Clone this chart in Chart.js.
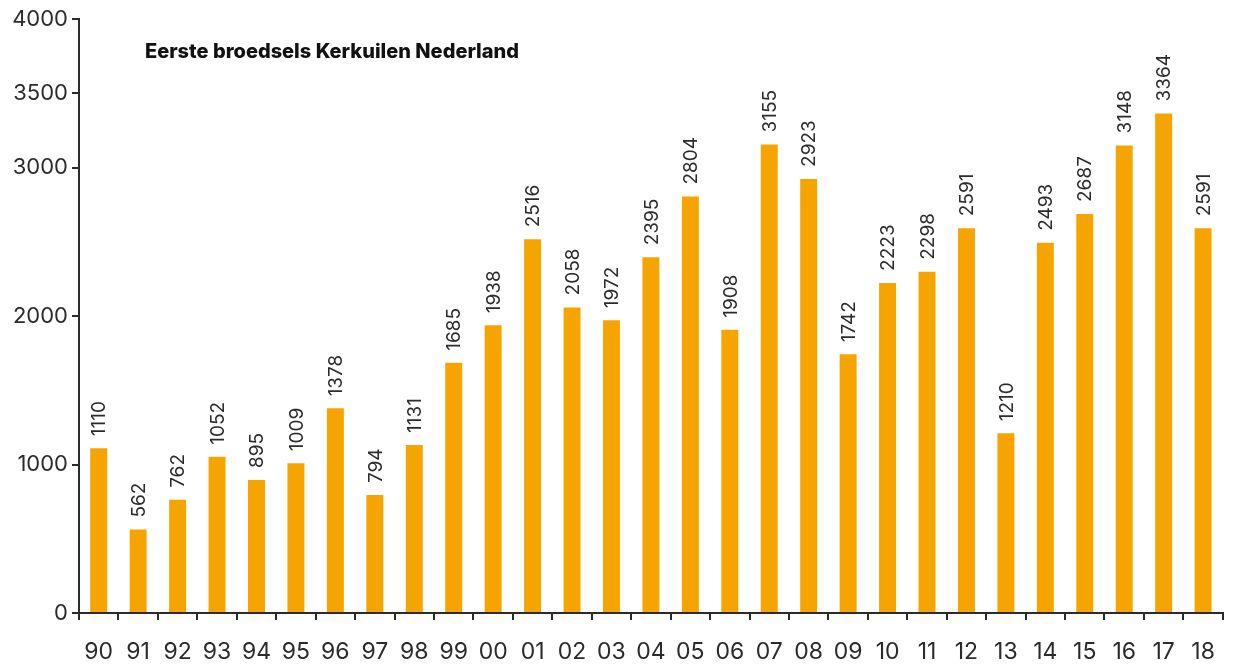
<!DOCTYPE html>
<html>
<head>
<meta charset="utf-8">
<script src="https://cdn.jsdelivr.net/npm/chart.js@4"></script>
<style>
  html, body { margin: 0; padding: 0; background: #fff; }
  #wrap { width: 1233px; height: 668px; }
</style>
</head>
<body>
<div id="wrap"><canvas id="owls"></canvas></div>
<script>
const years = ['90','91','92','93','94','95','96','97','98','99','00','01','02','03','04',
               '05','06','07','08','09','10','11','12','13','14','15','16','17','18'];
const broods = [1110, 562, 762, 1052, 895, 1009, 1378, 794, 1131, 1685, 1938, 2516, 2058, 1972, 2395,
                2804, 1908, 3155, 2923, 1742, 2223, 2298, 2591, 1210, 2493, 2687, 3148, 3364, 2591];
const yTicks = [0, 1000, 2000, 3000, 3500, 4000];
const chartTitle = 'Eerste broedsels Kerkuilen Nederland';

const FONT = 'Inter, "Noto Sans", sans-serif';
const INK = '#2b2b2b';

// rotated value labels above each bar + title inside the plot
const valueLabels = {
    id: 'valueLabels',
    afterDatasetsDraw(chart) {
        const ctx = chart.ctx;
        const meta = chart.getDatasetMeta(0);
        ctx.save();
        ctx.fillStyle = INK;
        ctx.font = '19px ' + FONT;
        ctx.textAlign = 'left';
        ctx.textBaseline = 'middle';
        meta.data.forEach(function (bar, i) {
            ctx.save();
            ctx.translate(bar.x + 1, bar.y - 12);
            ctx.rotate(-Math.PI / 2);
            ctx.fillText(String(broods[i]), 0, 0);
            ctx.restore();
        });
        const area = chart.chartArea;
        ctx.font = '800 20px ' + FONT;
        ctx.fillStyle = '#111';
        ctx.fillText(chartTitle, area.left + 66, area.top + 33);
        ctx.restore();
    }
};

new Chart(document.getElementById('owls'), {
    type: 'bar',
    data: {
        labels: years,
        datasets: [{
            data: broods,
            backgroundColor: '#f6a500',
            borderWidth: 0,
            categoryPercentage: 1,
            barPercentage: 0.43
        }]
    },
    options: {
        responsive: true,
        maintainAspectRatio: false,
        animation: false,
        layout: { padding: { top: 19, right: 6, left: 0, bottom: 0 } },
        plugins: {
            legend: { display: false },
            tooltip: { enabled: false }
        },
        scales: {
            x: {
                grid: {
                    offset: true,
                    drawOnChartArea: false,
                    drawTicks: true,
                    tickLength: 7,
                    color: INK,
                    lineWidth: 2
                },
                border: { display: true, color: INK, width: 2 },
                ticks: {
                    color: INK,
                    font: { family: FONT, size: 23 },
                    padding: 18,
                    maxRotation: 0,
                    autoSkip: false
                },
                afterFit: function (scale) { scale.height = 55; }
            },
            y: {
                min: 0,
                max: 4000,
                afterBuildTicks: function (scale) {
                    scale.ticks = yTicks.map(function (v) { return { value: v }; });
                },
                grid: {
                    drawOnChartArea: false,
                    drawTicks: true,
                    tickLength: 7,
                    color: INK,
                    lineWidth: 2
                },
                border: { display: true, color: INK, width: 2 },
                ticks: {
                    color: INK,
                    font: { family: FONT, size: 22 },
                    padding: 4,
                    callback: function (v) { return String(v); }
                },
                afterFit: function (scale) { scale.width = 79; }
            }
        }
    },
    plugins: [valueLabels]
});
</script>
</body>
</html>
